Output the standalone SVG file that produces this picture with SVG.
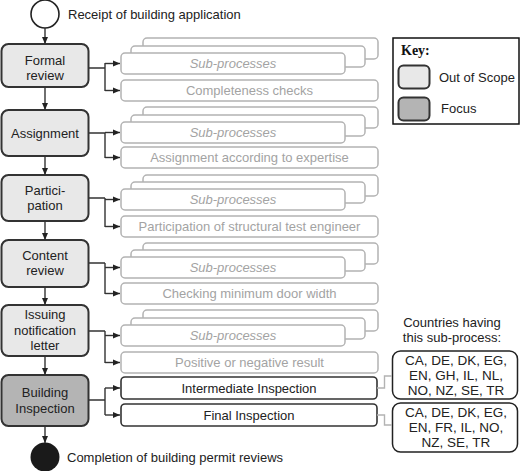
<svg xmlns="http://www.w3.org/2000/svg" width="520" height="471" viewBox="0 0 520 471">
<defs>
<style>
text{font-family:"Liberation Sans",Arial,sans-serif;font-size:13px;fill:#222}
.main{fill:#e8e8e8;stroke:#333;stroke-width:2}
.focus{fill:#b4b4b4;stroke:#333;stroke-width:2}
.sub{fill:#fff;stroke:#b3b3b3;stroke-width:1.5}
.subf{fill:#fff;stroke:#333;stroke-width:1.6}
.gt{fill:#a3a3a3;text-anchor:middle}
.gi{fill:#a3a3a3;text-anchor:middle;font-style:italic}
.ct{text-anchor:middle}
.con{fill:none;stroke:#333;stroke-width:1.4}
.gcon{fill:none;stroke:#b3b3b3;stroke-width:1.4}
.cty{text-anchor:middle;font-size:13.5px}
</style>
<marker id="ah" markerUnits="userSpaceOnUse" markerWidth="8" markerHeight="8" refX="7" refY="4" orient="auto">
<path d="M0,1 L7,4 L0,7 Z" fill="#222"/>
</marker>
</defs>
<rect width="520" height="471" fill="#fff"/>

<g id="start">
<circle cx="45" cy="14" r="14" fill="#fff" stroke="#222" stroke-width="1.6"/>
<text x="68" y="19">Receipt of building application</text>
</g>
<g id="end">
<circle cx="45" cy="457" r="14.5" fill="#1a1a1a"/>
<text x="67" y="462">Completion of building permit reviews</text>
</g>

<g id="formal-review">
<rect class="main" x="1.5" y="44" width="87" height="43" rx="7"/>
<text class="ct" x="45" y="65">Formal</text>
<text class="ct" x="45" y="80">review</text>
</g>
<g id="assignment">
<rect class="main" x="1.5" y="110" width="87" height="46" rx="7"/>
<text class="ct" x="45" y="138">Assignment</text>
</g>
<g id="participation">
<rect class="main" x="1.5" y="175" width="87" height="46" rx="7"/>
<text class="ct" x="45" y="195">Partici-</text>
<text class="ct" x="45" y="210">pation</text>
</g>
<g id="content-review">
<rect class="main" x="1.5" y="240" width="87" height="47" rx="7"/>
<text class="ct" x="45" y="260">Content</text>
<text class="ct" x="45" y="275">review</text>
</g>
<g id="issuing">
<rect class="main" x="1.5" y="305" width="87" height="51" rx="7"/>
<text class="ct" x="45" y="319">Issuing</text>
<text class="ct" x="45" y="335">notification</text>
<text class="ct" x="45" y="350">letter</text>
</g>
<g id="building-inspection">
<rect class="focus" x="1.5" y="375" width="87" height="51" rx="7"/>
<text class="ct" x="45" y="397">Building</text>
<text class="ct" x="45" y="413">Inspection</text>
</g>

<g id="sub-formal">
<rect class="sub" x="143" y="38" width="235" height="21" rx="4"/>
<rect class="sub" x="131" y="46" width="234" height="21" rx="4"/>
<rect class="sub" x="121" y="53" width="224" height="21" rx="4"/>
<text class="gi" x="233" y="68">Sub-processes</text>
<rect class="sub" x="121" y="80" width="257" height="21" rx="4"/>
<text class="gt" x="249.5" y="95">Completeness checks</text>
</g>
<g id="sub-assignment">
<rect class="sub" x="143" y="107" width="235" height="21" rx="4"/>
<rect class="sub" x="131" y="115" width="234" height="21" rx="4"/>
<rect class="sub" x="121" y="122" width="224" height="21" rx="4"/>
<text class="gi" x="233" y="137">Sub-processes</text>
<rect class="sub" x="121" y="147" width="257" height="21" rx="4"/>
<text class="gt" x="249.5" y="162">Assignment according to expertise</text>
</g>
<g id="sub-participation">
<rect class="sub" x="143" y="175" width="235" height="21" rx="4"/>
<rect class="sub" x="131" y="182" width="234" height="21" rx="4"/>
<rect class="sub" x="121" y="189" width="224" height="21" rx="4"/>
<text class="gi" x="233" y="204">Sub-processes</text>
<rect class="sub" x="121" y="216" width="257" height="21" rx="4"/>
<text class="gt" x="249.5" y="231">Participation of structural test engineer</text>
</g>
<g id="sub-content">
<rect class="sub" x="143" y="243" width="235" height="21" rx="4"/>
<rect class="sub" x="131" y="250" width="234" height="21" rx="4"/>
<rect class="sub" x="121" y="257" width="224" height="21" rx="4"/>
<text class="gi" x="233" y="272">Sub-processes</text>
<rect class="sub" x="121" y="283" width="257" height="21" rx="4"/>
<text class="gt" x="249.5" y="298">Checking minimum door width</text>
</g>
<g id="sub-issuing">
<rect class="sub" x="143" y="310" width="235" height="21" rx="4"/>
<rect class="sub" x="131" y="318" width="234" height="21" rx="4"/>
<rect class="sub" x="121" y="325" width="224" height="21" rx="4"/>
<text class="gi" x="233" y="340">Sub-processes</text>
<rect class="sub" x="121" y="352" width="257" height="21" rx="4"/>
<text class="gt" x="249.5" y="367">Positive or negative result</text>
</g>
<g id="intermediate-inspection">
<rect class="subf" x="121" y="377" width="256" height="22" rx="4"/>
<text class="ct" x="249" y="393">Intermediate Inspection</text>
</g>
<g id="final-inspection">
<rect class="subf" x="121" y="404" width="256" height="22" rx="4"/>
<text class="ct" x="249" y="420">Final Inspection</text>
</g>

<g id="key">
<rect x="393" y="38" width="126" height="86" fill="#fff" stroke="#111" stroke-width="1.5"/>
<text x="401" y="55" style="font-family:'Liberation Serif','Times New Roman',serif;font-weight:bold;font-size:14px;fill:#111">Key:</text>
<rect class="main" x="398.5" y="65.5" width="31" height="23" rx="5"/>
<text x="439" y="82">Out of Scope</text>
<rect class="focus" x="398.5" y="97.5" width="31" height="23" rx="5"/>
<text x="441" y="113">Focus</text>
</g>

<g id="countries">
<text class="ct" x="452" y="327">Countries having</text>
<text class="ct" x="452" y="342">this sub-process:</text>
</g>
<g id="countries-intermediate">
<rect x="392.5" y="351" width="125" height="48" rx="8" fill="#fff" stroke="#222" stroke-width="1.5"/>
<text class="cty" x="456" y="365">CA, DE, DK, EG,</text>
<text class="cty" x="456" y="380">EN, GH, IL, NL,</text>
<text class="cty" x="456" y="395">NO, NZ, SE, TR</text>
</g>
<g id="countries-final">
<rect x="392.5" y="403" width="125" height="49" rx="8" fill="#fff" stroke="#222" stroke-width="1.5"/>
<text class="cty" x="456" y="417">CA, DE, DK, EG,</text>
<text class="cty" x="456" y="432">EN, FR, IL, NO,</text>
<text class="cty" x="456" y="447">NZ, SE, TR</text>
</g>

<g id="connectors">
<path class="con" d="M45,28 V44" marker-end="url(#ah)"/>
<path class="con" d="M45,87 V110" marker-end="url(#ah)"/>
<path class="con" d="M45,156 V175" marker-end="url(#ah)"/>
<path class="con" d="M45,221 V240" marker-end="url(#ah)"/>
<path class="con" d="M45,287 V305" marker-end="url(#ah)"/>
<path class="con" d="M45,356 V375" marker-end="url(#ah)"/>
<path class="con" d="M45,426 V443" marker-end="url(#ah)"/>

<path class="con" d="M89,68 H105 M105,63 V91"/>
<path class="con" d="M105,63.5 H120" marker-end="url(#ah)"/>
<path class="con" d="M105,90.5 H120" marker-end="url(#ah)"/>

<path class="con" d="M89,133 H105 M105,132.5 V158"/>
<path class="con" d="M105,132.5 H120" marker-end="url(#ah)"/>
<path class="con" d="M105,157.5 H120" marker-end="url(#ah)"/>

<path class="con" d="M89,198 H105 M105,198 V227"/>
<path class="con" d="M105,199.5 H120" marker-end="url(#ah)"/>
<path class="con" d="M105,226.5 H120" marker-end="url(#ah)"/>

<path class="con" d="M89,263 H105 M105,263 V294"/>
<path class="con" d="M105,267.5 H120" marker-end="url(#ah)"/>
<path class="con" d="M105,293.5 H120" marker-end="url(#ah)"/>

<path class="con" d="M89,331 H105 M105,331 V363"/>
<path class="con" d="M105,335.5 H120" marker-end="url(#ah)"/>
<path class="con" d="M105,362.5 H120" marker-end="url(#ah)"/>

<path class="con" d="M89,400 H105 M105,388 V415"/>
<path class="con" d="M105,388 H120" marker-end="url(#ah)"/>
<path class="con" d="M105,415 H120" marker-end="url(#ah)"/>

<path class="gcon" d="M377,388 H384.5 V376 H392"/>
<path class="gcon" d="M377,415 H384.5 V425 H392"/>
</g>
</svg>
